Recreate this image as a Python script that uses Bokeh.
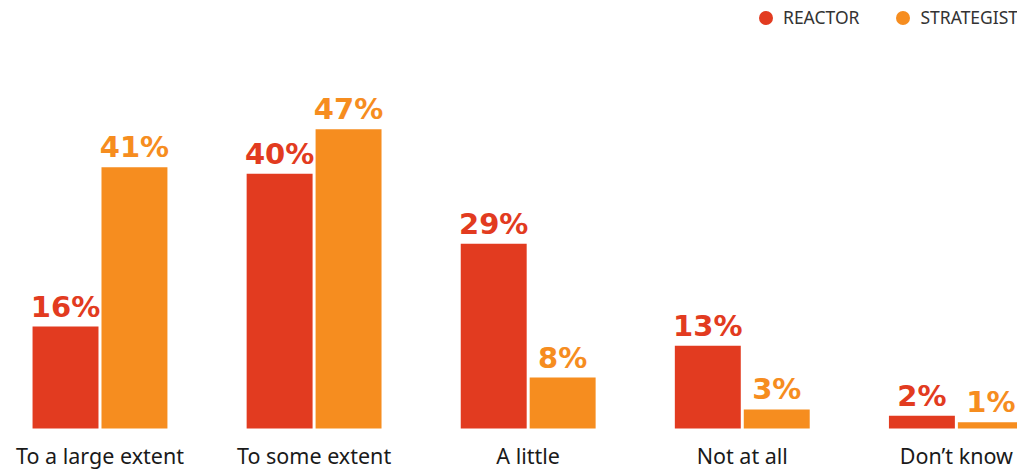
from bokeh.plotting import figure
from bokeh.models import ColumnDataSource, Range1d, Legend, LegendItem, LabelSet
from bokeh.transform import dodge
from bokeh.core.properties import value
from bokeh.embed import file_html
from bokeh.resources import INLINE

categories = ["To a large extent", "To some extent", "A little", "Not at all", "Don\u2019t know"]
reactor = [16, 40, 29, 13, 2]
strategist = [41, 47, 8, 3, 1]
series_names = ["REACTOR", "STRATEGIST"]

RED = "#E23B20"
ORANGE = "#F68D1F"

xs = list(range(len(categories)))
src = ColumnDataSource(dict(
    x=xs,
    cat=categories,
    zero=[0] * len(categories),
    reactor=reactor,
    strategist=strategist,
    reactor_lbl=[f"{v}%" for v in reactor],
    strategist_lbl=[f"{v}%" for v in strategist],
))

PX_PER_PCT = 6.369
p = figure(width=1017, height=470, output_backend="svg", toolbar_location=None,
           x_range=Range1d(-0.4647, 4.2855),
           y_range=Range1d(-42 / PX_PER_PCT, 428 / PX_PER_PCT),
           min_border=0, min_border_left=0, min_border_right=0, min_border_top=0, min_border_bottom=0,
           x_axis_location=None, y_axis_location=None, outline_line_color=None)
p.grid.visible = False
p.background_fill_color = "white"

w = 0.308
off = 0.161
p.vbar(x=dodge("x", -off), top="reactor", width=w, source=src, fill_color=RED, line_color=None)
p.vbar(x=dodge("x", off), top="strategist", width=w, source=src, fill_color=ORANGE, line_color=None)

p.add_layout(LabelSet(x=dodge("x", -off), y="reactor", text="reactor_lbl", source=src,
                      text_align="center", text_baseline="alphabetic", y_offset=10,
                      text_color=RED, text_font=value("DejaVu Sans"), text_font_style="bold",
                      text_font_size="29px"))
p.add_layout(LabelSet(x=dodge("x", off), y="strategist", text="strategist_lbl", source=src,
                      text_align="center", text_baseline="alphabetic", y_offset=10,
                      text_color=ORANGE, text_font=value("DejaVu Sans"), text_font_style="bold",
                      text_font_size="29px"))

# category labels under the groups
p.add_layout(LabelSet(x="x", y="zero", text="cat", source=src, text_align="center",
                      text_baseline="alphabetic", y_offset=-35, text_color="#1a1a1a",
                      text_font=value("Noto Sans"), text_font_size="21.5px"))

# legend markers (renderers used only for legend glyphs)
nan = float("nan")
lr1 = p.scatter(x=[nan], y=[nan], marker="circle", fill_color=RED, line_color=None)
lr2 = p.scatter(x=[nan], y=[nan], marker="circle", fill_color=ORANGE, line_color=None)
legend = Legend(items=[LegendItem(label=series_names[0], renderers=[lr1]),
                       LegendItem(label=series_names[1], renderers=[lr2])],
                orientation="horizontal", location=(748, 435.5),
                glyph_width=35, glyph_height=35, label_standoff=-9, spacing=26,
                padding=0, margin=0, border_line_color=None, background_fill_alpha=0,
                label_text_font="Noto Sans", label_text_font_size="17.5px",
                label_text_color="#333333")
p.add_layout(legend, "center")

open("out.html", "w").write(file_html(p, INLINE))
